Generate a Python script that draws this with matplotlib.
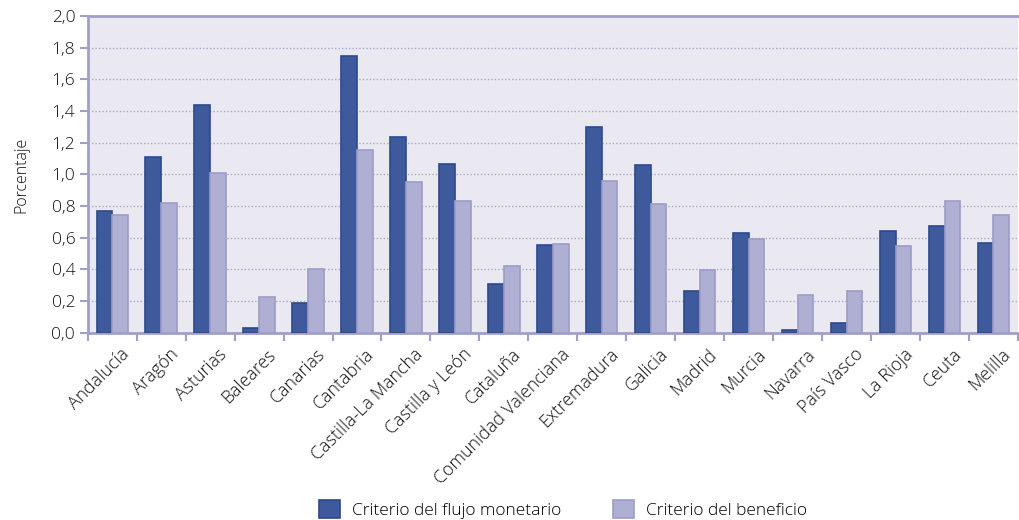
import numpy as np
import matplotlib.pyplot as plt
import matplotlib.transforms as mtransforms
from matplotlib.ticker import FixedLocator

regions = ['Andalucía', 'Aragón', 'Asturias', 'Baleares', 'Canarias', 'Cantabria',
           'Castilla-La Mancha', 'Castilla y León', 'Cataluña', 'Comunidad Valenciana',
           'Extremadura', 'Galicia', 'Madrid', 'Murcia', 'Navarra', 'País Vasco',
           'La Rioja', 'Ceuta', 'Melilla']
flujo = [0.77, 1.11, 1.44, 0.03, 0.19, 1.75, 1.235, 1.065, 0.31, 0.555,
         1.30, 1.06, 0.265, 0.63, 0.02, 0.065, 0.64, 0.675, 0.565]
beneficio = [0.745, 0.82, 1.01, 0.225, 0.40, 1.155, 0.955, 0.835, 0.42, 0.56,
             0.96, 0.815, 0.395, 0.595, 0.24, 0.265, 0.55, 0.835, 0.745]
yticks = [0.0, 0.2, 0.4, 0.6, 0.8, 1.0, 1.2, 1.4, 1.6, 1.8, 2.0]

plt.rcParams['font.family'] = ['Open Sans', 'DejaVu Sans']

dark = '#3f5a9c'
light = '#aeafd2'
frame = '#a09fc8'
txt = '#111111'

fig = plt.figure(figsize=(10.2, 5.2), dpi=100)
ax = fig.add_axes([0.086, 0.36, 0.912, 0.609])
ax.set_facecolor('#eae9f2')

x = np.arange(len(regions))
w = 0.32
ax.bar(x - w / 2, flujo, w, color=dark, edgecolor='#2b4a8c', linewidth=1.2,
       label='Criterio del flujo monetario', zorder=3)
ax.bar(x + w / 2, beneficio, w, color=light, edgecolor='#9c9dc8', linewidth=1.2,
       label='Criterio del beneficio', zorder=3)

ax.set_xlim(-0.5, len(regions) - 0.5)
ax.set_ylim(0, 2.0)
ax.set_yticks(yticks)
ax.set_yticklabels([f'{v:.1f}'.replace('.', ',') for v in yticks], fontsize=12.5,
                   color=txt, fontweight='light')
ax.yaxis.grid(True, linestyle=(0, (1, 1.5)), color='#a9a8cc', linewidth=1, zorder=1)

ax.set_xticks(x)
ax.set_xticklabels(regions, rotation=45, ha='right', rotation_mode='anchor', fontsize=12.8,
                   color=txt, fontweight='light')
ax.tick_params(axis='x', which='major', length=0, pad=9)
# labels in the original sit a bit right of the category centre
shift = mtransforms.ScaledTranslation(8 / 100, 0, fig.dpi_scale_trans)
for lbl in ax.get_xticklabels():
    lbl.set_transform(lbl.get_transform() + shift)
ax.xaxis.set_minor_locator(FixedLocator(np.arange(-0.5, len(regions), 1.0)))
ax.tick_params(axis='x', which='minor', length=6, color=frame, width=1.5)
ax.tick_params(axis='y', length=6, color=frame, width=1.5, pad=3)

for side in ['left', 'bottom', 'top']:
    ax.spines[side].set_color(frame)
    ax.spines[side].set_linewidth(2)
ax.spines['right'].set_visible(False)

ax.set_ylabel('Porcentaje', fontsize=11.5, color=txt, labelpad=16, fontweight='light')

fig.legend(loc='lower center', bbox_to_anchor=(0.552, -0.028), ncol=2, frameon=False,
           prop={'size': 12.5, 'weight': 'light'}, handlelength=1.2, handleheight=1.2,
           handletextpad=0.7, columnspacing=3.0)

fig.savefig('out.png', dpi=100)
